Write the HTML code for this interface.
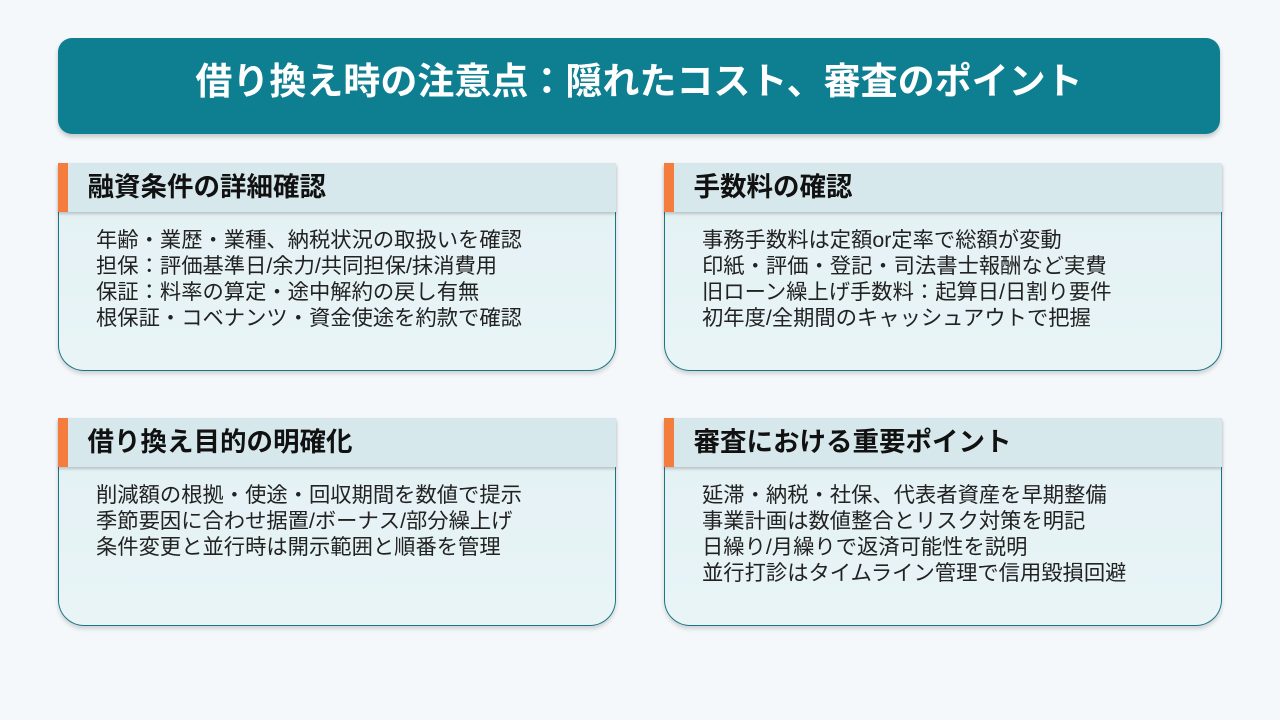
<!DOCTYPE html>
<html><head><meta charset="utf-8"><style>
*{margin:0;padding:0;box-sizing:border-box}
body{width:1280px;height:720px;background:#f4f8fb;position:relative;overflow:hidden;font-family:"Liberation Sans","Noto Sans CJK JP",sans-serif}
.title{position:absolute;left:58px;top:38px;width:1162px;height:96px;background:#0e7f91;border-radius:14px;box-shadow:0 3px 5px rgba(0,0,0,.2);color:#fff;font-weight:bold;font-size:37px;line-height:88px;text-align:center;letter-spacing:0}
.card{position:absolute;width:558px;height:208px;background:linear-gradient(#e4f1f4,#e8f4f6);border:1.5px solid #1b7584;border-top:none;border-radius:0 0 26px 26px;box-shadow:0 3px 4px rgba(0,0,0,.15)}
.hd{position:absolute;left:-1.5px;top:0;width:558px;height:49px;background:#d6e8ec;box-shadow:0 2px 3px rgba(0,0,0,.2);font-weight:bold;font-size:26.5px;color:#111;line-height:49px;padding-left:30px}
.hd:before{content:"";position:absolute;left:0;top:0;width:10px;height:49px;background:#f47c3c}
.bd{position:absolute;left:37px;top:64px;font-size:21.3px;line-height:26px;color:#222;white-space:nowrap}
</style></head><body>
<div class="title">借り換え時の注意点：隠れたコスト、審査のポイント</div>
<div class="card" style="left:58px;top:163px"><div class="hd">融資条件の詳細確認</div><div class="bd">年齢・業歴・業種、納税状況の取扱いを確認<br>担保：評価基準日/余力/共同担保/抹消費用<br>保証：料率の算定・途中解約の戻し有無<br>根保証・コベナンツ・資金使途を約款で確認</div></div>
<div class="card" style="left:664px;top:163px"><div class="hd">手数料の確認</div><div class="bd">事務手数料は定額or定率で総額が変動<br>印紙・評価・登記・司法書士報酬など実費<br>旧ローン繰上げ手数料：起算日/日割り要件<br>初年度/全期間のキャッシュアウトで把握</div></div>
<div class="card" style="left:58px;top:418px"><div class="hd">借り換え目的の明確化</div><div class="bd">削減額の根拠・使途・回収期間を数値で提示<br>季節要因に合わせ据置/ボーナス/部分繰上げ<br>条件変更と並行時は開示範囲と順番を管理</div></div>
<div class="card" style="left:664px;top:418px"><div class="hd">審査における重要ポイント</div><div class="bd">延滞・納税・社保、代表者資産を早期整備<br>事業計画は数値整合とリスク対策を明記<br>日繰り/月繰りで返済可能性を説明<br>並行打診はタイムライン管理で信用毀損回避</div></div>
</body></html>
